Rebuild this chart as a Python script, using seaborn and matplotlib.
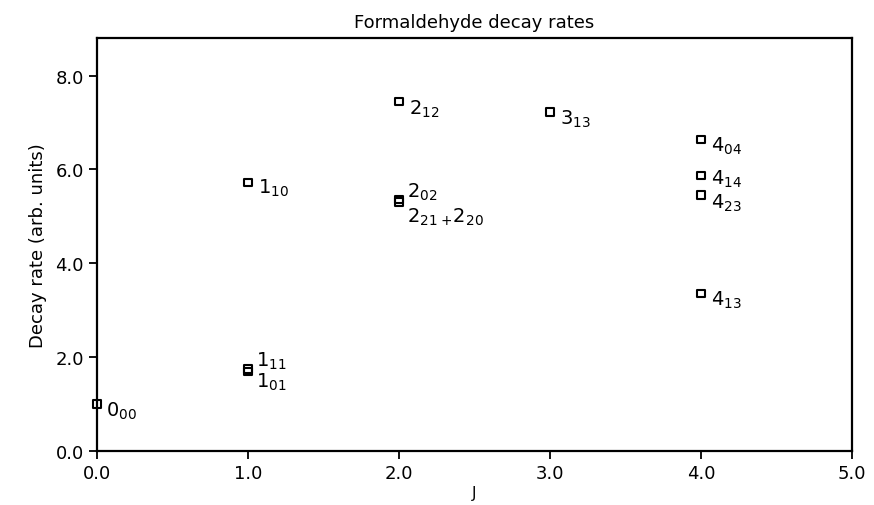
import matplotlib
matplotlib.use("Agg")
import matplotlib.pyplot as plt
import seaborn as sns
import pandas as pd

# ---- data ----
J = [0, 1, 1, 1, 2, 2, 2, 3, 4, 4, 4, 4]
rate = [1.00, 5.72, 1.75, 1.69, 7.45, 5.36, 5.30, 7.22, 6.64, 5.87, 5.45, 3.36]
state_labels = [r"$0_{00}$", r"$1_{10}$", r"$1_{11}$", r"$1_{01}$", r"$2_{12}$",
                r"$2_{02}$", r"$2_{21}\,{}_{+}2_{20}$", r"$3_{13}$", r"$4_{04}$",
                r"$4_{14}$", r"$4_{23}$", r"$4_{13}$"]
x_ticks = [0.0, 1.0, 2.0, 3.0, 4.0, 5.0]
y_ticks = [0.0, 2.0, 4.0, 6.0, 8.0]

df = pd.DataFrame({"J": J, "rate": rate, "label": state_labels})

sns.set_style("white")
plt.rcParams["font.family"] = ["DejaVu Sans"]
plt.rcParams["mathtext.fontset"] = "dejavusans"
plt.rcParams["text.color"] = "black"
plt.rcParams["axes.labelcolor"] = "black"

fig = plt.figure(figsize=(8.74, 5.06), dpi=100)
ax = fig.add_axes([97 / 874, 1 - 452 / 506, (852 - 97) / 874, (452 - 39) / 506])

sns.scatterplot(data=df, x="J", y="rate", ax=ax, marker="s", s=30,
                facecolor="none", edgecolor="black", linewidth=1.5, zorder=3,
                clip_on=False)

# label placement (pixel offsets from each point)
offsets = [(9, -6), (10, -5), (8, 9), (8, -10), (10, -7), (8, 8), (8, -14),
           (10, -6), (10, -6), (10, -3), (10, -7), (10, -6)]
for (xv, yv, lab), off in zip(zip(J, rate, state_labels), offsets):
    ax.annotate(lab, (xv, yv), xytext=off, textcoords="offset pixels",
                ha="left", va="center", fontsize=14, color="black")

ax.set_xlim(0, 5)
ax.set_ylim(0, 8.8)
ax.set_xticks(x_ticks)
ax.set_yticks(y_ticks)
ax.set_xticklabels([f"{t:.1f}" for t in x_ticks])
ax.set_yticklabels([f"{t:.1f}" for t in y_ticks])
ax.tick_params(axis="both", direction="out", length=6, width=1.3,
               labelsize=13, colors="black", bottom=True, left=True)
for sp in ax.spines.values():
    sp.set_linewidth(1.6)
    sp.set_color("black")

ax.set_xlabel("J", fontsize=11, labelpad=2)
ax.set_ylabel("Decay rate (arb. units)", fontsize=13, labelpad=6)
ax.set_title("Formaldehyde decay rates", fontsize=13, pad=8, color="black")

fig.savefig("out.png", dpi=100)
